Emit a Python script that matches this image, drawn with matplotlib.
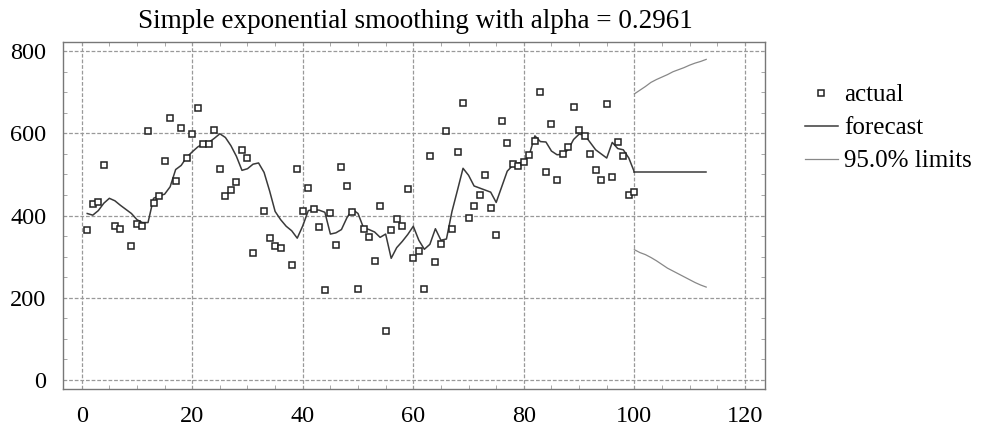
import matplotlib
matplotlib.use("Agg")
import matplotlib.pyplot as plt
from matplotlib.ticker import MultipleLocator
from matplotlib.lines import Line2D

act_t = [1, 2, 3, 4, 6, 7, 9, 10, 11, 12, 13, 14, 15, 16, 17, 18, 19, 20,
         21, 22, 23, 24, 25, 26, 27, 28, 29, 30, 31, 33, 34, 35, 36, 38, 39,
         40, 41, 42, 43, 44, 45, 46, 47, 48, 49, 50, 51, 52, 53, 54, 55, 56,
         57, 58, 59, 60, 61, 62, 63, 64, 65, 66, 67, 68, 69, 70, 71, 72, 73,
         74, 75, 76, 77, 78, 79, 80, 81, 82, 83, 84, 85, 86, 87, 88, 89, 90,
         91, 92, 93, 94, 95, 96, 97, 98, 99, 100]
act_v = [364, 429, 433, 522, 375, 367, 327, 379, 374, 605, 430, 447, 533, 637,
         484, 613, 540, 599, 661, 573, 573, 609, 514, 448, 463, 482, 560, 540,
         308, 411, 345, 325, 321, 280, 513, 412, 468, 416, 373, 218, 406, 328,
         517, 472, 408, 222, 367, 349, 290, 424, 120, 366, 392, 374, 465, 296,
         313, 222, 545, 288, 332, 606, 367, 555, 673, 394, 423, 451, 498, 418,
         353, 631, 577, 525, 520, 530, 547, 582, 700, 506, 623, 487, 549, 567,
         665, 608, 594, 551, 510, 487, 671, 495, 579, 544, 449, 457]

# one-step forecast, t = 1..100
fc_v = [405, 401, 412, 430, 442, 436, 425, 415, 405, 390, 383, 383, 442, 448,
        452, 470, 512, 522, 542, 555, 567, 575, 578, 588, 599, 590, 570, 544,
        510, 514, 525, 528, 505, 460, 410, 390, 374, 363, 345, 375, 412, 415,
        413, 408, 355, 358, 366, 395, 415, 405, 370, 366, 360, 347, 355, 296,
        322, 337, 354, 374, 340, 318, 330, 368, 340, 343, 410, 462, 515, 498,
        472, 467, 462, 457, 432, 470, 508, 522, 528, 530, 548, 594, 580, 579,
        557, 548, 549, 560, 585, 598, 596, 578, 560, 550, 540, 578, 563, 560,
        540, 506]
fc_t = list(range(1, 101))

# out-of-sample forecast and 95% limits
fut_t = list(range(100, 114))
fut_v = [505] * 14
upper = [696, 705, 714, 724, 731, 737, 743, 750, 755, 760, 766, 771, 775, 780]
lower = [317, 310, 305, 298, 290, 281, 272, 265, 258, 251, 244, 237, 231, 226]

serif = "Liberation Serif"

fig = plt.figure(figsize=(9.83, 4.32), dpi=100)
ax = fig.add_axes([0.064, 0.0995, 0.714, 0.803])

ax.plot(fc_t, fc_v, color="#3a3a3a", lw=1.1)
ax.plot(fut_t, fut_v, color="#3a3a3a", lw=1.1)
ax.plot(fut_t, upper, color="#888888", lw=0.9)
ax.plot(fut_t, lower, color="#888888", lw=0.9)
ax.plot(act_t, act_v, ls="none", marker="s", ms=3.8, mfc="white",
        mec="#222222", mew=1.1)

ax.set_xlim(-3.4, 123.6)
ax.set_ylim(-22, 822)
ax.set_xticks(range(0, 121, 20))
ax.set_yticks(range(0, 801, 200))
ax.xaxis.set_minor_locator(MultipleLocator(5))
ax.yaxis.set_minor_locator(MultipleLocator(50))
ax.grid(True, which="major", color="#999999", ls=(0, (3, 1.5)), lw=0.9)
ax.tick_params(which="major", length=0, pad=12, labelsize=17.5)
ax.tick_params(which="minor", direction="in", length=3, color="#999999",
               top=True, right=True)
for lab in ax.get_xticklabels() + ax.get_yticklabels():
    lab.set_fontfamily(serif)
for s in ax.spines.values():
    s.set_color("#777777")
    s.set_linewidth(1.0)

fig.text(0.423, 0.950, "Simple exponential smoothing with alpha = 0.2961",
         ha="center", va="center", fontsize=19.5, family=serif)

handles = [
    Line2D([], [], ls="none", marker="s", ms=3.8, mfc="white", mec="#222222", mew=1.1),
    Line2D([], [], color="#3a3a3a", lw=1.1),
    Line2D([], [], color="#888888", lw=0.9),
]
fig.legend(handles, ["actual", "forecast", "95.0% limits"], loc="upper left",
           bbox_to_anchor=(0.819, 0.806), frameon=False, borderpad=0,
           borderaxespad=0, handlelength=1.3, handletextpad=0.25,
           labelspacing=0.42, prop={"family": serif, "size": 18})

fig.savefig("out.png", dpi=100)
